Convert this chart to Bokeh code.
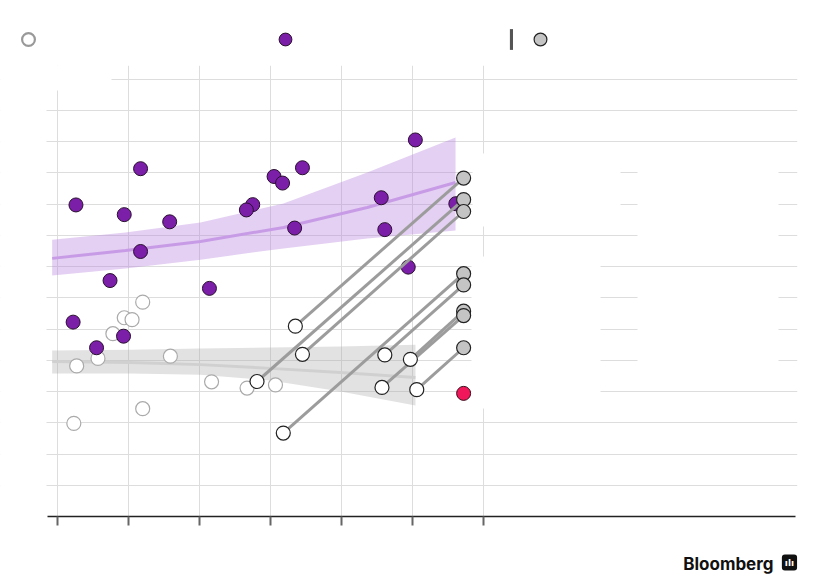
from bokeh.plotting import figure
from bokeh.layouts import column
from bokeh.models import (Range1d, FixedTicker, Legend, LegendItem, BoxAnnotation, Label)
from bokeh.embed import file_html
from bokeh.resources import INLINE

# ---------------- data ----------------
x_ticks = [0, 1, 2, 3, 4, 5, 6]
y_grid = [1, 2, 3, 4, 5, 6, 7, 8, 9, 10, 11, 12, 13, 14]

purple_x = [5.04, 1.17, 3.45, 3.05, 3.17, 0.26, 0.94, 1.58, 2.75, 2.66, 4.56,
            3.34, 4.61, 5.61, 1.17, 0.74, 2.14, 4.94, 0.22, 0.93, 0.55]
purple_y = [12.05, 11.13, 11.16, 10.88, 10.67, 9.97, 9.66, 9.43, 9.98, 9.81, 10.20,
            9.23, 9.18, 10.01, 8.48, 7.55, 7.30, 7.98, 6.22, 5.77, 5.40]

open_x = [1.20, 0.94, 1.05, 0.78, 0.27, 0.57, 1.59, 2.17, 2.67, 3.07, 1.20, 0.23]
open_y = [6.86, 6.36, 6.30, 5.85, 4.82, 5.06, 5.13, 4.31, 4.11, 4.21, 3.45, 2.98]

start_x = [3.35, 2.81, 3.45, 3.18, 4.61, 4.97, 4.57, 5.06]
start_y = [6.09, 4.32, 5.19, 2.67, 5.17, 5.03, 4.13, 4.06]
end_x = [5.72, 5.72, 5.72, 5.72, 5.72, 5.72, 5.72, 5.72]
end_y = [10.83, 10.14, 9.76, 7.77, 7.41, 6.57, 6.43, 5.40]

red_x = [5.72]
red_y = [3.94]

band_p_x = [-0.075, 0.958, 2.014, 3.183, 4.362, 5.606]
band_p_hi = [8.86, 9.09, 9.41, 10.02, 11.01, 12.13]
band_p_mid = [8.26, 8.51, 8.80, 9.25, 9.89, 10.69]
band_p_lo = [7.71, 7.94, 8.22, 8.58, 8.90, 9.15]

band_g_x = [-0.075, 1.028, 2.014, 3.0, 3.986, 5.042]
band_g_hi = [5.31, 5.34, 5.38, 5.41, 5.44, 5.50]
band_g_mid = [4.96, 4.93, 4.86, 4.74, 4.61, 4.45]
band_g_lo = [4.58, 4.58, 4.54, 4.35, 4.00, 3.55]

NAN = float("nan")
W = 820
RIGHT = 23


def strip(h):
    f = figure(width=W, height=h, output_backend="svg", toolbar_location=None,
               x_range=Range1d(0, W - RIGHT), y_range=Range1d(0, h),
               x_axis_type=None, y_axis_type=None, min_border=0,
               min_border_right=RIGHT)
    f.outline_line_color = None
    f.grid.visible = False
    f.background_fill_color = "white"
    f.border_fill_color = "white"
    return f


# ---------------- legend strip (labels removed in the reference) ----------------
top = strip(60)
r_leg_open = top.scatter([NAN], [NAN], size=14, fill_color="white",
                         line_color="#999999", line_width=2.2)
r_leg_purple = top.scatter([NAN], [NAN], size=14, fill_color="#7b1fa8",
                           line_color="#2a1030", line_width=1)
r_leg_bar = top.vbar(x=[NAN], top=[NAN], width=0.1, fill_color="#555555",
                     line_color=None)
r_leg_gray = top.scatter([NAN], [NAN], size=14, fill_color="#c4c4c4",
                         line_color="#222222", line_width=1.2)


def add_legend(fig, renderer, loc, gw, gh):
    # loc = bottom-left corner of the legend box, in screen px from frame bottom-left
    lg = Legend(items=[LegendItem(label="", renderers=[renderer])], location=loc,
                padding=0, margin=0, glyph_width=gw, glyph_height=gh,
                background_fill_alpha=0, border_line_alpha=0, label_standoff=0,
                label_width=0, label_text_font_size="1px")
    fig.add_layout(lg, "center")


add_legend(top, r_leg_open, (12, 5), 32, 32)
add_legend(top, r_leg_purple, (269, 5), 32, 32)
add_legend(top, r_leg_bar, (509, 8.5), 4, 26)
add_legend(top, r_leg_gray, (524, 5.5), 32, 32)

# ---------------- main chart ----------------
p = figure(width=W, height=480, output_backend="svg", toolbar_location=None,
           x_range=Range1d(-0.8028, 10.4225), y_range=Range1d(0, 14.432),
           min_border_left=0, min_border_right=RIGHT, min_border_top=5,
           min_border_bottom=24)
p.outline_line_color = None
p.background_fill_color = "white"
p.border_fill_color = "white"

p.yaxis.visible = False
p.ygrid.ticker = FixedTicker(ticks=y_grid)
p.xgrid.ticker = FixedTicker(ticks=x_ticks)
p.xaxis.ticker = FixedTicker(ticks=x_ticks)
p.xaxis.bounds = (-0.141, 10.394)
p.xaxis.major_label_overrides = {t: "" for t in x_ticks}
p.xaxis.major_label_text_font_size = "1px"
p.xaxis.axis_line_color = "#222222"
p.xaxis.axis_line_width = 1.5
p.xaxis.major_tick_line_color = "#666666"
p.xaxis.major_tick_line_width = 2
p.xaxis.major_tick_out = 9
p.xaxis.major_tick_in = 0
p.xaxis.minor_tick_line_color = None
p.grid.grid_line_color = "#dddddd"
p.grid.grid_line_width = 1

# white masks (left margin and areas of removed labels)
for l, r, b, t in [(-0.9, -0.155, -1, 15), (-0.5, 0.761, 13.63, 15),
                   (5.845, 7.93, 9.28, 11.62), (8.169, 10.155, 8.42, 11.75),
                   (5.831, 7.648, 3.46, 8.32), (8.169, 10.155, 4.16, 7.90)]:
    p.add_layout(BoxAnnotation(left=l, right=r, bottom=b, top=t, level="underlay",
                               fill_color="white", fill_alpha=1, line_color=None))

# bands
p.varea(x=band_p_x, y1=band_p_lo, y2=band_p_hi, fill_color="#b57edc", fill_alpha=0.36)
p.line(band_p_x, band_p_mid, line_color="#c89be6", line_width=3)
p.varea(x=band_g_x, y1=band_g_lo, y2=band_g_hi, fill_color="#a8a8a8", fill_alpha=0.33)
p.line(band_g_x, band_g_mid, line_color="#d0d0d0", line_width=3)

# points
p.scatter(open_x, open_y, size=14, fill_color="white", line_color="#aaaaaa",
          line_width=1.2)
p.scatter(purple_x, purple_y, size=14, fill_color="#7b1fa8", line_color="#2a1030",
          line_width=1)
p.segment(x0=start_x, y0=start_y, x1=end_x, y1=end_y, line_color="#9c9c9c",
          line_width=3)
p.scatter(start_x, start_y, size=14, fill_color="white", line_color="#222222",
          line_width=1.2)
p.scatter(end_x, end_y, size=14, fill_color="#c4c4c4", line_color="#222222",
          line_width=1.2)
p.scatter(red_x, red_y, size=14, fill_color="#f0185a", line_color="#3a0a18",
          line_width=1)

# ---------------- footer with Bloomberg mark ----------------
bottom = strip(38)
bottom.add_layout(Label(x=773, y=15, x_units="screen", y_units="screen",
                        text="Bloomberg", text_font="Inter", text_font_style="bold",
                        text_font_size="17px", text_color="#111111",
                        text_align="right", text_baseline="alphabetic"))
bottom.add_layout(Label(x=789, y=16, x_units="screen", y_units="screen", text="ılı",
                        text_font="DejaVu Sans", text_font_style="bold",
                        text_font_size="9px", text_color="white", text_align="center",
                        text_baseline="alphabetic", background_fill_color="#111111",
                        padding=3, border_radius=3))

layout = column(top, p, bottom, spacing=0)
open("out.html", "w").write(file_html(layout, INLINE))
